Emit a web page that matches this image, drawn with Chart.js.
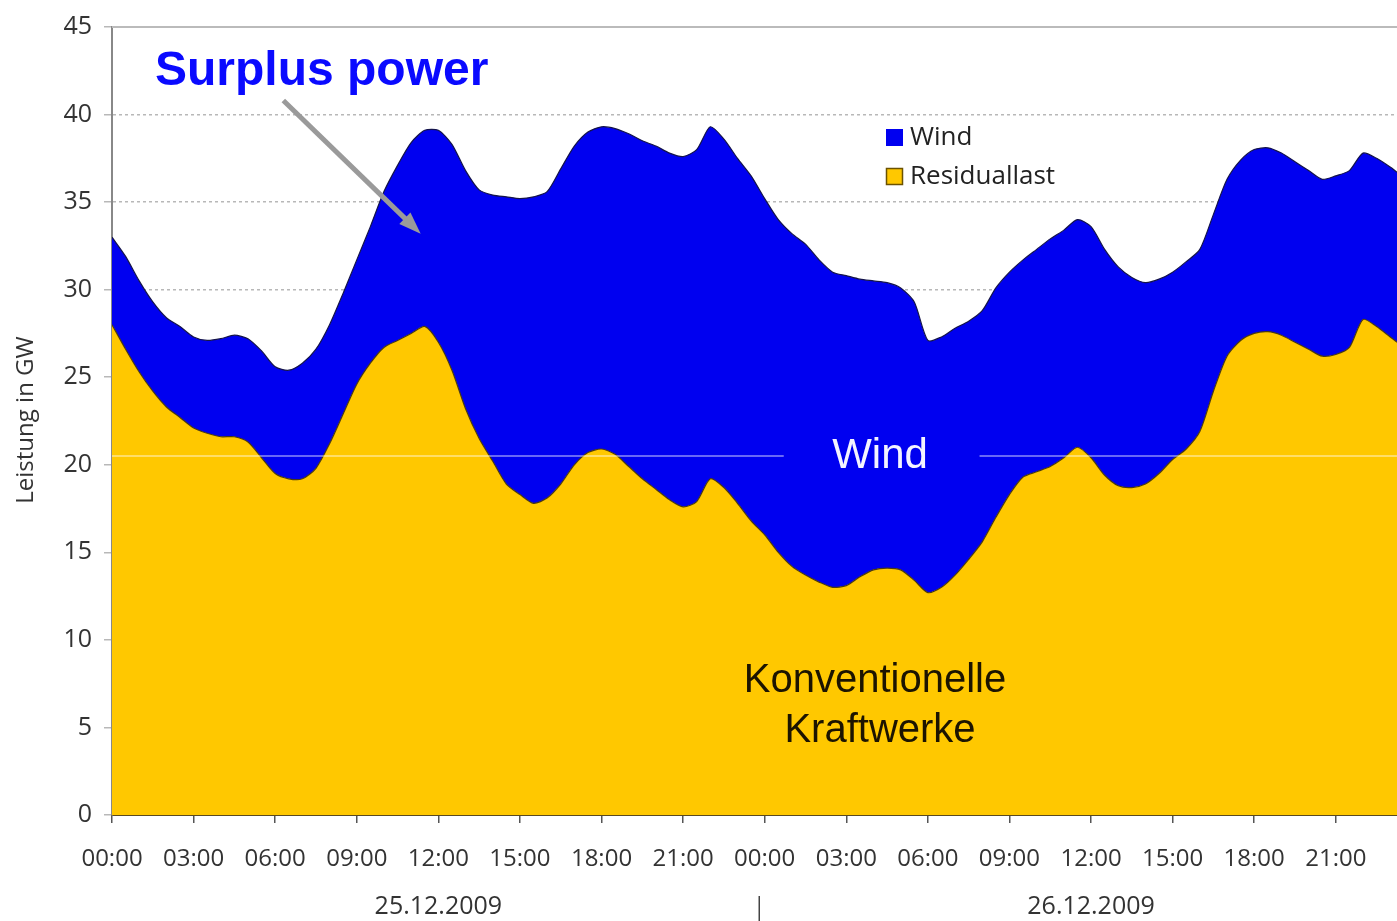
<!DOCTYPE html>
<html>
<head>
<meta charset="utf-8">
<script src="https://cdn.jsdelivr.net/npm/chart.js@4.4.1/dist/chart.umd.min.js"></script>
<style>
  html, body { margin: 0; padding: 0; background: #fff; }
  #wrap { width: 1397px; height: 921px; position: relative; }
</style>
</head>
<body>
<div id="wrap"><canvas id="power-chart"></canvas></div>
<script>
// hours since 25.12.2009 00:00 (half-hour steps)
const hours = [
  0, 0.5, 1, 1.5, 2, 2.5, 3, 3.5, 4, 4.5, 5, 5.5, 6, 6.5, 7, 7.5, 8, 8.5, 9, 9.5,
  10, 10.5, 11, 11.5, 12, 12.5, 13, 13.5, 14, 14.5, 15, 15.5, 16, 16.5, 17, 17.5, 18, 18.5, 19, 19.5,
  20, 20.5, 21, 21.5, 22, 22.5, 23, 23.5, 24, 24.5, 25, 25.5, 26, 26.5, 27, 27.5, 28, 28.5, 29, 29.5,
  30, 30.5, 31, 31.5, 32, 32.5, 33, 33.5, 34, 34.5, 35, 35.5, 36, 36.5, 37, 37.5, 38, 38.5, 39, 39.5,
  40, 40.5, 41, 41.5, 42, 42.5, 43, 43.5, 44, 44.5, 45, 45.5, 46, 46.5, 47, 47.25
];

// Residuallast (GW) - lower yellow area
const residualLoad = [
  28.0, 26.6, 25.3, 24.2, 23.3, 22.7, 22.1, 21.8, 21.6, 21.6, 21.3, 20.4, 19.5, 19.2, 19.2, 19.8, 21.2, 22.9, 24.6, 25.8,
  26.7, 27.1, 27.5, 27.9, 27.0, 25.4, 23.2, 21.5, 20.2, 18.9, 18.3, 17.8, 18.1, 18.9, 20.0, 20.7, 20.9, 20.6, 19.9, 19.2,
  18.6, 18.0, 17.6, 17.9, 19.2, 18.7, 17.8, 16.8, 16.0, 15.0, 14.2, 13.7, 13.3, 13.0, 13.1, 13.6, 14.0, 14.1, 14.0, 13.4,
  12.7, 13.0, 13.7, 14.6, 15.6, 17.0, 18.3, 19.3, 19.6, 19.9, 20.4, 21.0, 20.4, 19.4, 18.8, 18.7, 18.9, 19.5, 20.3, 20.9,
  21.9, 24.2, 26.2, 27.1, 27.5, 27.6, 27.4, 27.0, 26.6, 26.2, 26.3, 26.7, 28.3, 27.9, 27.3, 27.0
];

// Residuallast + Wind (GW) - upper edge of the blue area
const totalLoad = [
  33.0, 31.9, 30.5, 29.3, 28.4, 27.9, 27.3, 27.1, 27.2, 27.4, 27.2, 26.5, 25.6, 25.4, 25.8, 26.6, 28.0, 29.8, 31.7, 33.6,
  35.6, 37.1, 38.4, 39.1, 39.1, 38.3, 36.8, 35.7, 35.4, 35.3, 35.2, 35.3, 35.6, 36.9, 38.2, 39.0, 39.3, 39.2, 38.9, 38.5,
  38.2, 37.8, 37.6, 38.0, 39.3, 38.6, 37.5, 36.5, 35.2, 34.0, 33.2, 32.6, 31.7, 31.0, 30.8, 30.6, 30.5, 30.4, 30.1, 29.3,
  27.1, 27.3, 27.8, 28.2, 28.8, 30.1, 31.0, 31.7, 32.3, 32.9, 33.4, 34.0, 33.6, 32.3, 31.3, 30.7, 30.4, 30.6, 31.0, 31.6,
  32.3, 34.3, 36.3, 37.4, 38.0, 38.1, 37.8, 37.3, 36.8, 36.3, 36.5, 36.8, 37.8, 37.5, 37.0, 36.7
];

const tickHours = [0, 3, 6, 9, 12, 15, 18, 21, 24, 27, 30, 33, 36, 39, 42, 45];
const tickLabels = ['00:00', '03:00', '06:00', '09:00', '12:00', '15:00', '18:00', '21:00',
                    '00:00', '03:00', '06:00', '09:00', '12:00', '15:00', '18:00', '21:00'];
const dayLabels = ['25.12.2009', '26.12.2009'];
const dayCenters = [12, 36];

const BLUE = '#0000f0';
const YELLOW = '#ffc800';
const TXT = '#333';

// extra drawing: legend, labels, arrow, dates
const overlay = {
  id: 'overlay',
  afterDatasetsDraw(chart) {
    const { ctx, scales: { x, y }, chartArea } = chart;
    ctx.save();
    // pale horizontal line through the areas (gap around "Wind")
    const ly = y.getPixelForValue(20.5);
    ctx.strokeStyle = 'rgba(255,255,255,0.55)';
    ctx.lineWidth = 1.5;
    ctx.beginPath();
    ctx.moveTo(chartArea.left, ly);
    ctx.lineTo(x.getPixelForValue(24.7), ly);
    ctx.moveTo(x.getPixelForValue(31.9), ly);
    ctx.lineTo(chartArea.right, ly);
    ctx.stroke();
    ctx.restore();
  },
  afterDraw(chart) {
    const { ctx, scales: { x, y }, chartArea } = chart;
    ctx.save();

    // solid top line at 45
    ctx.strokeStyle = '#bbb';
    ctx.lineWidth = 2;
    ctx.beginPath();
    ctx.moveTo(chartArea.left, y.getPixelForValue(45));
    ctx.lineTo(chartArea.right, y.getPixelForValue(45));
    ctx.stroke();

    // y axis title
    ctx.fillStyle = TXT;
    ctx.font = '24px "Open Sans"';
    ctx.textAlign = 'center';
    ctx.textBaseline = 'middle';
    ctx.translate(26, 420);
    ctx.rotate(-Math.PI / 2);
    ctx.fillText('Leistung in GW', 0, 0);
    ctx.setTransform(1, 0, 0, 1, 0, 0);

    // date labels
    ctx.font = '25px "Open Sans"';
    ctx.fillStyle = TXT;
    dayLabels.forEach((d, i) => {
      ctx.fillText(d, x.getPixelForValue(dayCenters[i]), 907);
    });
    ctx.strokeStyle = '#444';
    ctx.lineWidth = 1.5;
    ctx.beginPath();
    ctx.moveTo(x.getPixelForValue(23.8), 896);
    ctx.lineTo(x.getPixelForValue(23.8), 921);
    ctx.stroke();

    // legend
    const lx = 886;
    ctx.fillStyle = BLUE;
    ctx.fillRect(lx, 129, 17, 17);
    ctx.fillStyle = YELLOW;
    ctx.fillRect(lx, 168, 17, 17);
    ctx.strokeStyle = '#6b5200';
    ctx.lineWidth = 1.5;
    ctx.strokeRect(lx + 0.5, 168.5, 16, 16);
    ctx.fillStyle = '#222';
    ctx.font = '26px "Open Sans"';
    ctx.textAlign = 'left';
    ctx.fillText('Wind', 910, 138);
    ctx.fillText('Residuallast', 910, 177);

    // area labels
    ctx.textAlign = 'center';
    ctx.fillStyle = '#f4f4ff';
    ctx.font = '42px "Liberation Sans", Arial';
    ctx.fillText('Wind', 880, 456);
    ctx.fillStyle = '#1c1400';
    ctx.font = '40px "Liberation Sans", Arial';
    ctx.fillText('Konventionelle', 875, 681);
    ctx.fillText('Kraftwerke', 880, 731);

    // arrow
    const x0 = x.getPixelForValue(6.3), y0 = y.getPixelForValue(40.8);
    const x1 = x.getPixelForValue(11.35), y1 = y.getPixelForValue(33.2);
    const ang = Math.atan2(y1 - y0, x1 - x0);
    ctx.strokeStyle = '#9a9a9a';
    ctx.fillStyle = '#9a9a9a';
    ctx.lineWidth = 5;
    ctx.beginPath();
    ctx.moveTo(x0, y0);
    ctx.lineTo(x1 - 14 * Math.cos(ang), y1 - 14 * Math.sin(ang));
    ctx.stroke();
    ctx.beginPath();
    ctx.moveTo(x1, y1);
    ctx.lineTo(x1 - 22 * Math.cos(ang) + 8 * Math.sin(ang), y1 - 22 * Math.sin(ang) - 8 * Math.cos(ang));
    ctx.lineTo(x1 - 22 * Math.cos(ang) - 8 * Math.sin(ang), y1 - 22 * Math.sin(ang) + 8 * Math.cos(ang));
    ctx.closePath();
    ctx.fill();

    // title annotation
    ctx.fillStyle = '#0a0aff';
    ctx.font = 'bold 48px "Liberation Sans", Arial';
    ctx.textAlign = 'left';
    ctx.textBaseline = 'alphabetic';
    ctx.fillText('Surplus power', 155, 85);

    ctx.restore();
  }
};

const ctxEl = document.getElementById('power-chart').getContext('2d');
const powerChart = new Chart(ctxEl, {
  type: 'line',
  data: {
    datasets: [
      {
        label: 'Residuallast',
        data: hours.map((h, i) => ({ x: h, y: residualLoad[i] })),
        fill: 'origin',
        backgroundColor: YELLOW,
        borderColor: '#4a3a10',
        borderWidth: 1.2,
        pointRadius: 0,
        tension: 0.25
      },
      {
        label: 'Wind',
        data: hours.map((h, i) => ({ x: h, y: totalLoad[i] })),
        fill: '-1',
        backgroundColor: BLUE,
        borderColor: '#14144a',
        borderWidth: 1.2,
        pointRadius: 0,
        tension: 0.25
      }
    ]
  },
  options: {
    responsive: true,
    maintainAspectRatio: false,
    animation: false,
    layout: { padding: { top: 24, right: 0, bottom: 0, left: 0 } },
    plugins: {
      legend: { display: false },
      tooltip: { enabled: false }
    },
    scales: {
      x: {
        type: 'linear',
        min: 0,
        max: 47.25,
        afterBuildTicks: (scale) => { scale.ticks = tickHours.map(v => ({ value: v })); },
        afterFit: (scale) => { scale.height = 106; },
        ticks: {
          autoSkip: false,
          maxRotation: 0,
          padding: 22,
          color: TXT,
          font: { family: 'Open Sans', size: 24 },
          callback: (v) => tickLabels[tickHours.indexOf(v)]
        },
        grid: { drawOnChartArea: false, drawTicks: true, tickLength: 8, color: '#555', lineWidth: 1.5 },
        border: { color: '#5a4a20', width: 2 }
      },
      y: {
        min: 0,
        max: 45,
        afterFit: (scale) => { scale.width = 112; },
        ticks: {
          stepSize: 5,
          padding: 12,
          color: TXT,
          font: { family: 'Open Sans', size: 25 }
        },
        grid: { color: '#b8b8b8', lineWidth: 1.5, tickLength: 8 },
        border: { color: '#888', width: 2, dash: [3, 3] }
      }
    }
  },
  plugins: [overlay]
});
</script>
</body>
</html>
